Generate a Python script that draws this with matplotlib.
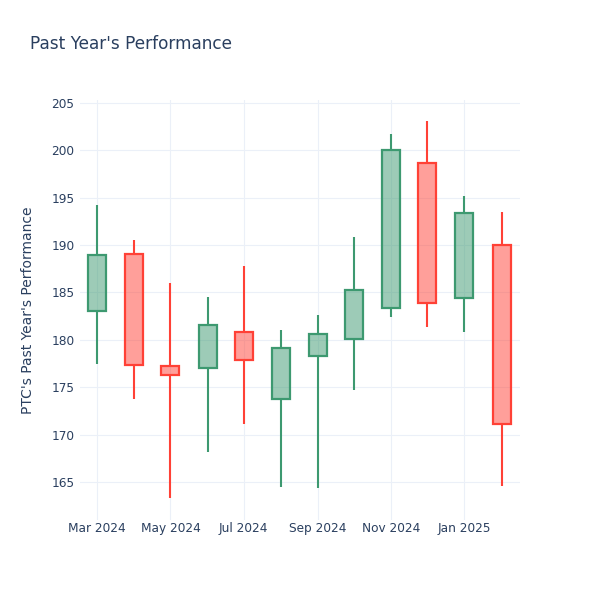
import matplotlib
matplotlib.use("Agg")
import matplotlib.pyplot as plt
import matplotlib.dates as mdates
import numpy as np
from datetime import datetime

# monthly candles, Mar 2024 - Feb 2025
months = ["2024-03-01", "2024-04-01", "2024-05-01", "2024-06-01", "2024-07-01", "2024-08-01",
          "2024-09-01", "2024-10-01", "2024-11-01", "2024-12-01", "2025-01-01", "2025-02-01"]
open_ = [183.0, 189.1, 177.2, 177.0, 180.8, 173.8, 178.3, 180.1, 183.4, 198.7, 184.4, 190.0]
high = [194.2, 190.5, 186.0, 184.5, 187.8, 181.0, 182.6, 190.9, 201.7, 203.1, 195.2, 193.5]
low = [177.5, 173.8, 163.3, 168.2, 171.1, 164.5, 164.4, 174.7, 182.4, 181.4, 180.8, 164.6]
close = [189.0, 177.4, 176.3, 181.6, 177.9, 179.1, 180.6, 185.3, 200.0, 183.9, 193.4, 171.1]

UP = "#3D9970"
DOWN = "#FF4136"
TEXT = "#2a3f5f"
GRID = "#EBF0F8"

dates = [datetime.strptime(m, "%Y-%m-%d") for m in months]
x = mdates.date2num(dates)

fig = plt.figure(figsize=(6, 6), dpi=100)
ax = fig.add_axes([80 / 600, 80 / 600, 440 / 600, 420 / 600])

body_w = 15
for xi, o, h, l, c in zip(x, open_, high, low, close):
    col = UP if c >= o else DOWN
    lo_b, hi_b = min(o, c), max(o, c)
    ax.vlines(xi, l, lo_b, color=col, linewidth=1.5, zorder=3)
    ax.vlines(xi, hi_b, h, color=col, linewidth=1.5, zorder=3)
    ax.bar(xi, hi_b - lo_b, bottom=lo_b, width=body_w, facecolor=col, alpha=0.5,
           edgecolor="none", zorder=3)
    ax.bar(xi, hi_b - lo_b, bottom=lo_b, width=body_w, facecolor="none",
           edgecolor=col, linewidth=1.6, zorder=4)

ax.set_xlim(mdates.date2num(datetime(2024, 2, 15, 14)), mdates.date2num(datetime(2025, 2, 16, 10)))
ax.set_ylim(161.0, 205.3)
ax.set_yticks(np.arange(165, 206, 5))
ax.xaxis.set_major_locator(mdates.MonthLocator(bymonth=[1, 3, 5, 7, 9, 11]))
ax.xaxis.set_major_formatter(mdates.DateFormatter("%b %Y"))

ax.grid(True, color=GRID, linewidth=0.8, zorder=0)
ax.set_axisbelow(True)
for s in ax.spines.values():
    s.set_visible(False)
ax.tick_params(axis="both", length=0, labelsize=8.7, labelcolor=TEXT)
ax.tick_params(axis="y", pad=4)
ax.tick_params(axis="x", pad=1.5)

fig.text(30 / 600, 1 - 44 / 600, "Past Year's Performance", fontsize=12.2, color=TEXT,
         ha="left", va="center")
fig.text(28 / 600, 1 - 310 / 600, "PTC's Past Year's Performance", fontsize=10, color=TEXT,
         rotation=90, ha="center", va="center")

fig.savefig("out.png", dpi=100, facecolor="white")
